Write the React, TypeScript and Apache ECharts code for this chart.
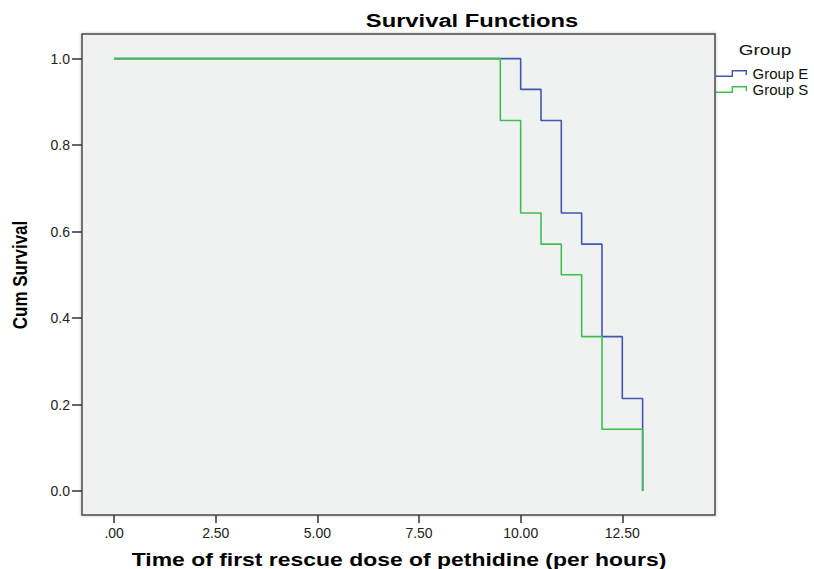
import React, { useEffect, useRef } from "react";
import * as echarts from "echarts";

// ---- data ----
const groupNames = ["Group E", "Group S"];
const groupColors = ["#3f57b3", "#3cbf4c"];
const timesE = [0, 10, 10.5, 11, 11.5, 12, 12.5, 13];
const survivalE = [1.0, 0.929, 0.857, 0.643, 0.571, 0.357, 0.214, 0.0];
const timesS = [0, 9.5, 10, 10.5, 11, 11.5, 12, 13];
const survivalS = [1.0, 0.857, 0.643, 0.571, 0.5, 0.357, 0.143, 0.0];
const xTicks = [0, 2.5, 5, 7.5, 10, 12.5];
const yTicks = [0, 0.2, 0.4, 0.6, 0.8, 1.0];

const chartTitle = "Survival Functions";
const xAxisTitle = "Time of first rescue dose of pethidine (per hours)";
const yAxisTitle = "Cum Survival";
const legendTitle = "Group";

const stepIcon =
  "path://M0,5.6 L15.6,5.6 L15.6,0 L31,0 L31,5 L29.6,5 L29.6,1.4 L17,1.4 L17,7 L0,7 Z";

export default function App() {
  const ref = useRef<HTMLDivElement>(null);
  useEffect(() => {
    if (!ref.current) return;
    const chart = echarts.init(ref.current, null, { renderer: "svg" });
    const seriesData = [
      timesE.map((t, i) => [t, survivalE[i]]),
      timesS.map((t, i) => [t, survivalS[i]]),
    ];
    const option: any = {
      animation: false,
      backgroundColor: "#ffffff",
      grid: {
        left: 82,
        top: 34,
        width: 633,
        height: 481,
        show: true,
        backgroundColor: "#f0f2f2",
        borderColor: "#4a4a4a",
        borderWidth: 1.5,
        shadowColor: "rgba(0,0,0,0.25)",
        shadowBlur: 3,
      },
      legend: {
        orient: "vertical",
        left: 716,
        top: 66,
        padding: 0,
        itemGap: 1,
        itemWidth: 32,
        itemHeight: 7,
        icon: stepIcon,
        itemStyle: { borderWidth: 0 },
        textStyle: {
          fontFamily: "Arial, 'Liberation Sans', sans-serif",
          fontSize: 15,
          color: "#111",
          lineHeight: 15,
        },
        data: groupNames,
      },
      xAxis: {
        type: "value",
        min: -0.79,
        max: 14.78,
        axisLine: { show: false, onZero: false },
        splitLine: { show: false },
        axisTick: {
          show: true,
          length: 8,
          customValues: xTicks,
          lineStyle: { color: "#333", width: 1.5 },
        },
        axisLabel: {
          customValues: xTicks,
          margin: 11,
          fontFamily: "Arial, 'Liberation Sans', sans-serif",
          fontSize: 14,
          color: "#222",
          formatter: (v: number) => (v === 0 ? ".00" : v.toFixed(2)),
        },
      },
      yAxis: {
        type: "value",
        min: -0.0555,
        max: 1.057,
        axisLine: { show: false, onZero: false },
        splitLine: { show: false },
        axisTick: {
          show: true,
          length: 10,
          customValues: yTicks,
          lineStyle: { color: "#333", width: 1.5 },
        },
        axisLabel: {
          customValues: yTicks,
          margin: 12,
          fontFamily: "Arial, 'Liberation Sans', sans-serif",
          fontSize: 14,
          color: "#222",
          formatter: (v: number) => v.toFixed(1),
        },
      },
      series: groupNames.map((name, i) => ({
        name,
        type: "line",
        step: "end",
        showSymbol: false,
        symbol: "none",
        data: seriesData[i],
        color: groupColors[i],
        lineStyle: { color: groupColors[i], width: 1.6 },
        z: 2 + i,
      })),
      graphic: [
        {
          type: "text",
          x: 472,
          y: 21,
          scaleX: 1.32,
          style: {
            text: chartTitle,
            font: "bold 18px Arial, 'Liberation Sans', sans-serif",
            fill: "#000",
            align: "center",
            verticalAlign: "middle",
          },
        },
        {
          type: "text",
          x: 399,
          y: 559,
          scaleX: 1.24,
          style: {
            text: xAxisTitle,
            font: "bold 18.5px Arial, 'Liberation Sans', sans-serif",
            fill: "#000",
            align: "center",
            verticalAlign: "middle",
          },
        },
        {
          type: "text",
          x: 20,
          y: 275,
          rotation: Math.PI / 2,
          scaleY: 1.15,
          style: {
            text: yAxisTitle,
            font: "bold 17px Arial, 'Liberation Sans', sans-serif",
            fill: "#000",
            align: "center",
            verticalAlign: "middle",
          },
        },
        {
          type: "text",
          x: 765,
          y: 50,
          scaleX: 1.22,
          style: {
            text: legendTitle,
            font: "15.5px Arial, 'Liberation Sans', sans-serif",
            fill: "#111",
            align: "center",
            verticalAlign: "middle",
          },
        },
      ],
    };
    chart.setOption(option);
    return () => chart.dispose();
  }, []);
  return (
    <div
      ref={ref}
      style={{ position: "fixed", left: 0, top: 0, width: 814, height: 569 }}
    />
  );
}
